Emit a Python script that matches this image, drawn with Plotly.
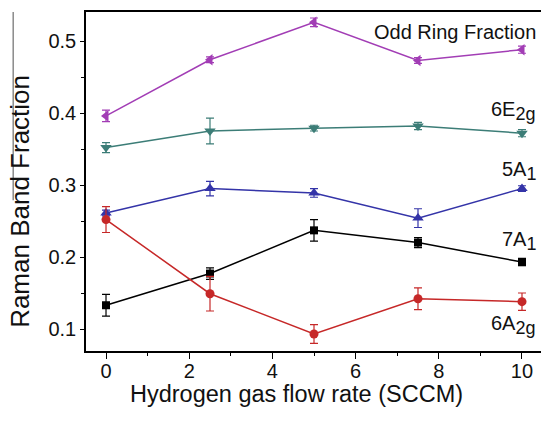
import plotly.graph_objects as go

# Hydrogen gas flow rate (SCCM)
flow = [0, 2.5, 5, 7.5, 10]

odd_ring = [0.396, 0.474, 0.526, 0.473, 0.488]
odd_ring_err = [0.008, 0.004, 0.006, 0.004, 0.005]

e2g_6 = [0.352, 0.375, 0.379, 0.382, 0.372]
e2g_6_err = [0.007, 0.018, 0.004, 0.005, 0.005]

a1_5 = [0.261, 0.295, 0.289, 0.254, 0.295]
a1_5_err = [0.004, 0.010, 0.006, 0.013, 0.004]

a1_7 = [0.133, 0.177, 0.237, 0.220, 0.193]
a1_7_err = [0.015, 0.008, 0.015, 0.007, 0.005]

a2g_6 = [0.252, 0.149, 0.093, 0.142, 0.138]
a2g_6_err = [0.018, 0.024, 0.013, 0.015, 0.012]

FONT = "Liberation Sans, Arial, sans-serif"

series = [
    (odd_ring, odd_ring_err, "#a23db5", "triangle-left", 10),
    (e2g_6, e2g_6_err, "#3c7d77", "triangle-down", 10),
    (a1_5, a1_5_err, "#3434a8", "triangle-up", 10),
    (a1_7, a1_7_err, "#000000", "square", 8),
    (a2g_6, a2g_6_err, "#c62828", "circle", 9),
]

fig = go.Figure()
for vals, errs, col, sym, sz in series:
    fig.add_trace(go.Scatter(
        x=flow, y=vals, mode="lines+markers",
        line=dict(color=col, width=1.5),
        marker=dict(symbol=sym, size=sz, color=col),
        error_y=dict(type="data", array=errs, visible=True,
                     color=col, thickness=1.2, width=4),
        showlegend=False,
    ))

# series labels at the right edge
labels = [
    ("Odd Ring Fraction", 0.5125),
    ("6E<sub><span style='font-size:18px'>2g</span></sub>", 0.4025),
    ("5A<sub><span style='font-size:18px'>1</span></sub>", 0.319),
    ("7A<sub><span style='font-size:18px'>1</span></sub>", 0.222),
    ("6A<sub><span style='font-size:18px'>2g</span></sub>", 0.106),
]
for txt, yv in labels:
    fig.add_annotation(
        x=1.0, xref="paper", y=yv, yref="y", text=txt, showarrow=False,
        xanchor="right", yanchor="middle", xshift=-3,
        font=dict(family=FONT, size=20, color="#111111"),
    )

# axis titles
fig.add_annotation(
    x=0.092, xref="paper", y=-0.127, yref="paper",
    text="Hydrogen gas flow rate (SCCM)", showarrow=False,
    xanchor="left", yanchor="middle",
    font=dict(family=FONT, size=23.5, color="#111111"),
)
fig.add_annotation(
    x=-0.145, xref="paper", y=0.44, yref="paper",
    text="Raman Band Fraction", showarrow=False, textangle=-90,
    xanchor="center", yanchor="middle",
    font=dict(family=FONT, size=26, color="#111111"),
)

# thin grey rule along the far left
fig.add_shape(type="line", xref="paper", yref="paper",
              x0=-0.160, x1=-0.160, y0=0.445, y1=1.0,
              line=dict(color="#8a8a8a", width=1.5))

fig.update_layout(
    width=541, height=421,
    margin=dict(l=86, r=0, t=12, b=70),
    paper_bgcolor="white", plot_bgcolor="white",
    font=dict(family=FONT, size=20, color="#111111"),
)
fig.update_xaxes(
    range=[-0.481, 10.457], tickvals=[0, 2, 4, 6, 8, 10],
    showline=True, linecolor="black", linewidth=1.5, mirror=True,
    ticks="outside", ticklen=6, tickwidth=1.2, tickcolor="black",
    ticklabelstandoff=-5,
    minor=dict(dtick=1, ticks="outside", ticklen=3, tickcolor="black", tickwidth=1.2),
    showgrid=False, zeroline=False,
    tickfont=dict(size=20),
)
fig.update_yaxes(
    range=[0.06944, 0.5403], tickvals=[0.1, 0.2, 0.3, 0.4, 0.5],
    showline=True, linecolor="black", linewidth=1.5, mirror=False,
    ticks="outside", ticklen=4, tickwidth=1.2, tickcolor="black",
    minor=dict(dtick=0.05, tick0=0.05, ticks="outside", ticklen=3, tickcolor="black", tickwidth=1.2),
    showgrid=False, zeroline=False,
    tickfont=dict(size=20),
)

fig.write_html("out.html")
